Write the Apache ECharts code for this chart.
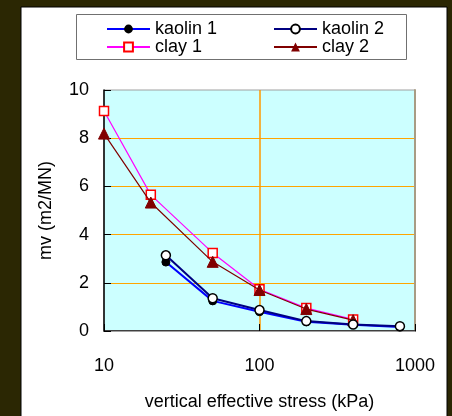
<!DOCTYPE html>
<html><head><meta charset="utf-8">
<script src="https://cdn.jsdelivr.net/npm/echarts@6/dist/echarts.min.js"></script>
<style>html,body{margin:0;padding:0;background:#2b2703}#c{width:452px;height:416px}</style>
</head><body><div id="c"></div>
<script>
const seriesNames = ['kaolin 1', 'kaolin 2', 'clay 1', 'clay 2'];
const kaolin1Stress = [25, 50, 100, 200, 400, 800];
const kaolin1Mv = [2.86, 1.25, 0.80, 0.38, 0.26, 0.17];
const kaolin2Stress = [25, 50, 100, 200, 400, 800];
const kaolin2Mv = [3.14, 1.36, 0.87, 0.41, 0.27, 0.20];
const clay1Stress = [10, 20, 50, 100, 200, 400];
const clay1Mv = [9.13, 5.65, 3.24, 1.73, 0.95, 0.48];
const clay2Stress = [10, 20, 50, 100, 200, 400];
const clay2Mv = [8.19, 5.33, 2.87, 1.70, 0.91, 0.45];
const xTicks = [10, 100, 1000];
const yTicks = [0, 2, 4, 6, 8, 10];

const zip = (xs, ys) => xs.map((x, i) => [x, ys[i]]);
const font = 'Liberation Sans, Arial, sans-serif';
const chart = echarts.init(document.getElementById('c'), null, {renderer: 'canvas'});
chart.setOption({
  backgroundColor: '#2b2703',
  animation: false,
  graphic: [
    {type: 'rect', z: -10, shape: {x: 21, y: 7, width: 426, height: 420},
     style: {fill: '#ffffff', stroke: '#000000', lineWidth: 1}},
    {type: 'rect', z: -9, shape: {x: 76.5, y: 14.5, width: 330, height: 45},
     style: {fill: 'none', stroke: '#707070', lineWidth: 1}}
  ],
  grid: {left: 104, top: 90, right: 37, bottom: 81, show: true,
         backgroundColor: '#ccffff', borderColor: '#a0a0a0', borderWidth: 1},
  legend: [
    {data: [seriesNames[0], seriesNames[2]], orient: 'vertical', left: 101, top: 15,
     itemWidth: 43, itemHeight: 11, itemGap: 0, itemTextGap: 5,
     textStyle: {fontFamily: font, fontSize: 18, color: '#000', lineHeight: 17}},
    {data: [seriesNames[1], seriesNames[3]], orient: 'vertical', left: 268, top: 15,
     itemWidth: 43, itemHeight: 11, itemGap: 0, itemTextGap: 5,
     textStyle: {fontFamily: font, fontSize: 18, color: '#000', lineHeight: 17}}
  ],
  xAxis: [{
    type: 'log', logBase: 10, min: xTicks[0], max: xTicks[xTicks.length - 1],
    name: 'vertical effective stress (kPa)', nameLocation: 'middle', nameGap: 62,
    nameMoveOverlap: false,
    nameTextStyle: {fontFamily: font, fontSize: 18, color: '#000'},
    axisLine: {show: true, lineStyle: {color: '#404040', width: 2}},
    axisTick: {show: true, inside: true, length: 7, lineStyle: {color: '#000'}},
    axisLabel: {fontFamily: font, fontSize: 18, color: '#000', margin: 26,
                formatter: v => String(Math.round(v))},
    minorSplitLine: {show: false},
    splitLine: {show: true, showMinLine: false, showMaxLine: false,
                lineStyle: {color: '#ff9900', width: 1.5, opacity: 1}}
  }, {
    type: 'log', logBase: 10, min: xTicks[0], max: xTicks[xTicks.length - 1], position: 'top',
    axisLine: {show: true, lineStyle: {color: '#a0a0a0', width: 1}},
    axisTick: {show: false}, axisLabel: {show: false}, splitLine: {show: false}
  }],
  yAxis: [{
    type: 'value', min: yTicks[0], max: yTicks[yTicks.length - 1], interval: 2,
    name: 'mv (m2/MN)', nameLocation: 'middle', nameGap: 49, nameMoveOverlap: false,
    nameTextStyle: {fontFamily: font, fontSize: 18, color: '#000'},
    axisLine: {show: true, lineStyle: {color: '#000', width: 1.5}},
    axisTick: {show: true, inside: true, length: 7, lineStyle: {color: '#000'}},
    axisLabel: {fontFamily: font, fontSize: 18, color: '#000', margin: 15},
    splitLine: {show: true, showMinLine: false, showMaxLine: false,
                lineStyle: {color: '#ffa500', width: 1.2}}
  }, {
    type: 'value', position: 'right', min: yTicks[0], max: yTicks[yTicks.length - 1],
    axisLine: {show: true, lineStyle: {color: '#a89c84', width: 2}},
    axisTick: {show: false}, axisLabel: {show: false}, splitLine: {show: false}
  }],
  series: [
    {name: 'clay 1', type: 'line', data: zip(clay1Stress, clay1Mv), z: 2,
     lineStyle: {color: '#ff00ff', width: 1.2}, itemStyle: {color: '#ffffff', borderColor: '#ff0000', borderWidth: 1.5},
     symbol: 'rect', symbolSize: 9},
    {name: 'clay 2', type: 'line', data: zip(clay2Stress, clay2Mv), z: 3,
     lineStyle: {color: '#800000', width: 1.2}, itemStyle: {color: '#800000', borderColor: '#800000'},
     symbol: 'triangle', symbolSize: 11},
    {name: 'kaolin 1', type: 'line', data: zip(kaolin1Stress, kaolin1Mv), z: 4,
     lineStyle: {color: '#0000ff', width: 2}, itemStyle: {color: '#000000', borderColor: '#000000'},
     symbol: 'circle', symbolSize: 8},
    {name: 'kaolin 2', type: 'line', data: zip(kaolin2Stress, kaolin2Mv), z: 5,
     lineStyle: {color: '#000080', width: 2}, itemStyle: {color: '#ffffff', borderColor: '#000000', borderWidth: 1.5},
     symbol: 'circle', symbolSize: 9}
  ]
});
</script></body></html>
